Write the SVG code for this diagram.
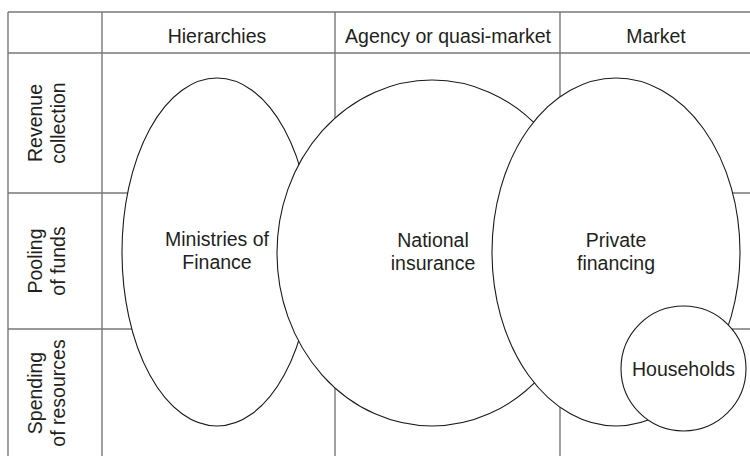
<svg xmlns="http://www.w3.org/2000/svg" width="750" height="456" viewBox="0 0 750 456">
<style>
.grid{stroke:#777;stroke-width:1.4;fill:none}
.shape{fill:#fff;stroke:#1a1a1a;stroke-width:1.1}
text{font-family:"Liberation Sans",Arial,sans-serif;font-size:19.5px;fill:#231f20;text-anchor:middle}
</style>
<rect width="750" height="456" fill="#fff"/>
<g id="table">
<line class="grid" x1="8" y1="12" x2="750" y2="12"/>
<line class="grid" x1="8" y1="53" x2="750" y2="53"/>
<line class="grid" x1="8" y1="193" x2="750" y2="193"/>
<line class="grid" x1="8" y1="329" x2="750" y2="329"/>
<line class="grid" x1="8" y1="12" x2="8" y2="456"/>
<line class="grid" x1="102" y1="12" x2="102" y2="456"/>
<line class="grid" x1="335" y1="12" x2="335" y2="456"/>
<line class="grid" x1="560" y1="12" x2="560" y2="456"/>
<text x="217" y="42.5">Hierarchies</text>
<text x="448" y="42.5">Agency or quasi-market</text>
<text x="656" y="42.5">Market</text>
<g transform="translate(42,123) rotate(-90)"><text x="0" y="0">Revenue</text><text x="0" y="23">collection</text></g>
<g transform="translate(42,261) rotate(-90)"><text x="0" y="0">Pooling</text><text x="0" y="23">of funds</text></g>
<g transform="translate(42,393) rotate(-90)"><text x="0" y="0">Spending</text><text x="0" y="23">of resources</text></g>
</g>
<g id="ministries">
<ellipse class="shape" cx="217" cy="252" rx="95" ry="174"/>
<text x="217" y="246">Ministries of</text>
<text x="217" y="269">Finance</text>
</g>
<g id="national">
<ellipse class="shape" cx="432" cy="253" rx="155" ry="173"/>
<text x="433" y="247">National</text>
<text x="433" y="270">insurance</text>
</g>
<g id="private">
<ellipse class="shape" cx="616" cy="252" rx="124" ry="174"/>
<text x="616" y="247">Private</text>
<text x="616" y="270">financing</text>
</g>
<g id="households">
<circle class="shape" cx="683.5" cy="368.5" r="62.5"/>
<text x="683.5" y="375.5">Households</text>
</g>
<g id="connectors"/>
</svg>
